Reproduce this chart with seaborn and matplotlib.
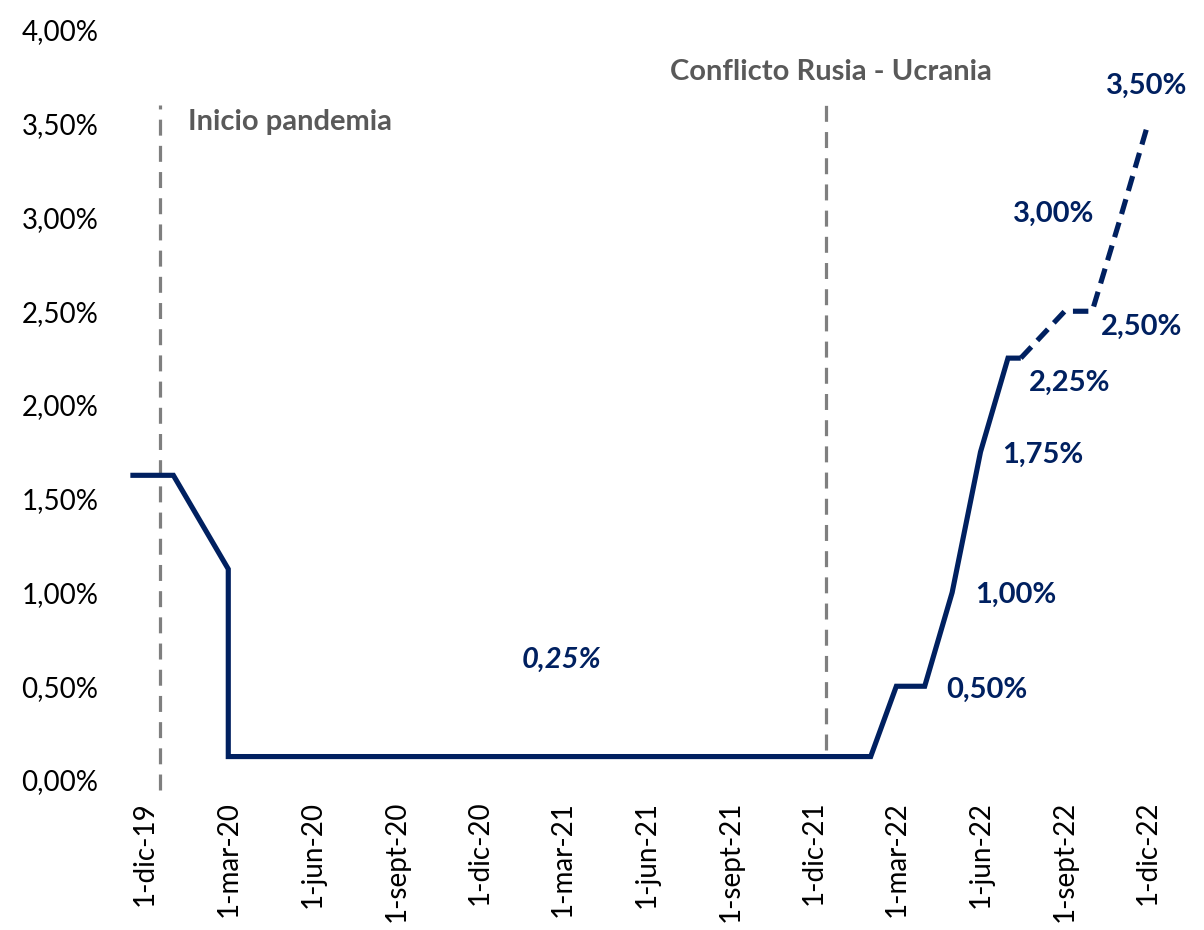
import matplotlib
matplotlib.use("Agg")
import matplotlib.pyplot as plt
import matplotlib.dates as mdates
import matplotlib.ticker as mticker
import seaborn as sns
import pandas as pd
import numpy as np

# ---- data ----
solid_dates = ["2019-11-15", "2020-01-01", "2020-03-01", "2020-03-01", "2022-02-01",
               "2022-03-01", "2022-04-01", "2022-05-01", "2022-06-01", "2022-07-01",
               "2022-07-15"]
solid_rates = [1.625, 1.625, 1.125, 0.125, 0.125, 0.50, 0.50, 1.00, 1.75, 2.25, 2.25]

dashed_dates = ["2022-07-15", "2022-09-01", "2022-10-01", "2022-11-01", "2022-12-01"]
dashed_rates = [2.25, 2.50, 2.50, 3.00, 3.50]

tick_dates = ["2019-12-01", "2020-03-01", "2020-06-01", "2020-09-01", "2020-12-01",
              "2021-03-01", "2021-06-01", "2021-09-01", "2021-12-01", "2022-03-01",
              "2022-06-01", "2022-09-01", "2022-12-01"]
tick_labels = ["1-dic-19", "1-mar-20", "1-jun-20", "1-sept-20", "1-dic-20", "1-mar-21",
               "1-jun-21", "1-sept-21", "1-dic-21", "1-mar-22", "1-jun-22", "1-sept-22",
               "1-dic-22"]

event_dates = ["2019-12-17", "2021-12-14"]
event_labels = ["Inicio pandemia", "Conflicto Rusia - Ucrania"]

value_labels = ["0,25%", "0,50%", "1,00%", "1,75%", "2,25%", "2,50%", "3,00%", "3,50%"]
value_label_dates = ["2021-02-28", "2022-06-08", "2022-07-09", "2022-08-08",
                     "2022-09-06", "2022-11-24", "2022-08-20", "2022-11-30"]
value_label_y = [0.64, 0.48, 0.985, 1.735, 2.12, 2.415, 3.02, 3.70]

# ---- style ----
sns.set_theme(style="white")
plt.rcParams["font.family"] = ["Lato", "DejaVu Sans"]

NAVY = "#002060"
GREY = "#7f7f7f"
TXTGREY = "#595959"

fig = plt.figure(figsize=(12.04, 9.30), dpi=100)
W, H = 1204, 930
ax = fig.add_axes([118 / W, 1 - 780 / H, (1200 - 118) / W, (780 - 30) / H])

df_s = pd.DataFrame({"fecha": pd.to_datetime(solid_dates), "tasa": solid_rates})
df_d = pd.DataFrame({"fecha": pd.to_datetime(dashed_dates), "tasa": dashed_rates})

sns.lineplot(data=df_s, x="fecha", y="tasa", ax=ax, color=NAVY, linewidth=3.7,
             estimator=None, sort=False, solid_joinstyle="miter", solid_capstyle="butt")
sns.lineplot(data=df_d, x="fecha", y="tasa", ax=ax, color=NAVY, linewidth=3.7,
             estimator=None, sort=False, linestyle=(0, (3.0, 1.7)), dash_capstyle="butt")

# vertical event lines
ev = pd.to_datetime(event_dates)
ax.vlines(ev[0], -0.055, 3.6, colors=GREY, linewidth=2.3, linestyles=(0, (5, 3.2)),
          clip_on=False, zorder=1)
ax.vlines(ev[1], 0.16, 3.6, colors=GREY, linewidth=2.3, linestyles=(0, (5, 3.2)),
          clip_on=False, zorder=1)

ax.text(pd.Timestamp("2020-01-17"), 3.51, event_labels[0], color=TXTGREY,
        fontsize=21, fontweight="bold", ha="left", va="center")
ax.text(pd.Timestamp("2021-12-20"), 3.776, event_labels[1], color=TXTGREY,
        fontsize=21, fontweight="bold", ha="center", va="center")

for lab, d, y in zip(value_labels, value_label_dates, value_label_y):
    style = "italic" if lab == "0,25%" else "normal"
    ax.text(pd.Timestamp(d), y, lab, color=NAVY, fontsize=21, fontweight="bold",
            fontstyle=style, ha="center", va="center")

# axes limits (pixel layout: 1-dic-19 at x=145, 1-dic-22 at x=1148)
base = mdates.date2num(pd.Timestamp("2019-12-01"))
ppd = (1148 - 145) / 1096.0
ax.set_xlim(base + (118 - 145) / ppd, base + (1200 - 145) / ppd)
ax.set_ylim(0, 4.0)

ax.set_xticks(pd.to_datetime(tick_dates))
ax.set_xticklabels(tick_labels, rotation=90, ha="center", va="top", fontsize=20,
                   color="black")
ax.set_yticks(np.arange(0, 4.01, 0.5))
ax.yaxis.set_major_formatter(mticker.FuncFormatter(lambda v, p: f"{v:.2f}%".replace(".", ",")))
ax.tick_params(axis="y", labelsize=20, labelcolor="black", pad=14, length=0)
ax.tick_params(axis="x", pad=15, length=0)
ax.set_xlabel("")
ax.set_ylabel("")
for s in ax.spines.values():
    s.set_visible(False)
ax.grid(False)

fig.savefig("out.png", dpi=100)
